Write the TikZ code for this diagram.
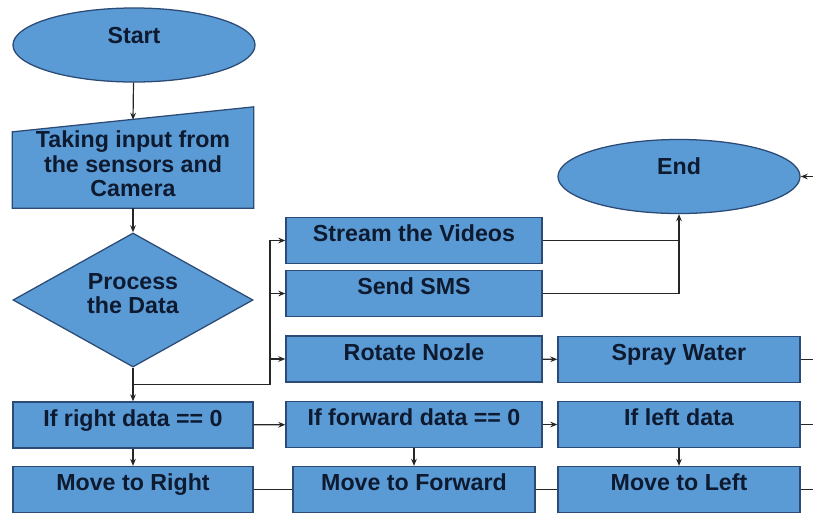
\documentclass[tikz,border=0pt]{standalone}
\usepackage{fontspec}
\setmainfont{Liberation Sans}
\usetikzlibrary{arrows.meta,positioning,shapes.geometric,backgrounds,calc}
\definecolor{boxfill}{HTML}{5B9BD5}
\definecolor{edge}{HTML}{2B4A75}
\definecolor{ink}{HTML}{0D1A30}
\definecolor{linec}{HTML}{262626}

\begin{document}
\begin{tikzpicture}[x=0.025cm,y=-0.025cm,
  base/.style={draw=edge,fill=boxfill,line width=0.9pt,text=ink,
               font=\fontsize{16.5}{17.5}\selectfont\bfseries,align=center},
  box/.style={base,rectangle,minimum width=6cm,minimum height=1.15cm,inner sep=2pt,
              text height=12pt,text depth=10pt},
  term/.style={base,ellipse,minimum width=6.05cm,minimum height=1.85cm,inner sep=1pt,
               text height=12pt,text depth=14.5pt},
  arr/.style={-{Stealth[length=5pt,width=4pt]},draw=linec,line width=0.85pt},
  wire/.style={draw=linec,line width=0.85pt}
]
\useasboundingbox (0,0) rectangle (813,514);
\node[term] (start) at (134,45) {Start};
\node[base,draw=none,fill=none,rectangle,minimum width=6cm,minimum height=2.175cm,inner sep=2pt]
  (inp) at (133,164) {Taking input from\\the sensors and\\Camera};
\begin{scope}[on background layer]
\draw[draw=edge,fill=boxfill,line width=0.9pt] (inp.south west) -- (inp.south east)
  -- ([yshift=0.325cm]inp.north east) -- ([yshift=-0.3cm]inp.north west) -- cycle;
\end{scope}
\node[base,diamond,inner sep=0pt,shape aspect=1.8,minimum width=6cm,minimum height=3.35cm]
  (dec) at (133,300) {Process\\the Data\\[-8pt]};
\node[box,minimum width=6.4cm] (stream) at (414,240.5) {Stream the Videos};
\node[box,minimum width=6.4cm] (sms) at (414,293.5) {Send SMS};
\node[box,minimum width=6.4cm] (rot) at (414,359) {Rotate Nozle};
\node[box,minimum width=6.4cm] (iff) at (414,424.5) {If forward data == 0};
\node[box,minimum width=6.05cm] (mf) at (414,489.5) {Move to Forward};
\node[box] (ifr) at (133,425) {If right data == 0};
\node[box] (mr) at (133,489.5) {Move to Right};
\node[term] (end) at (679,176.5) {End};
\node[box,minimum width=6.05cm] (spray) at (679,359.5) {Spray Water};
\node[box,minimum width=6.05cm] (ifl) at (679,424.5) {If left data};
\node[box,minimum width=6.05cm] (ml) at (679,489.5) {Move to Left};
\coordinate (j) at ($(dec.south)!0.5!(ifr.north)$);
\coordinate (bus) at ([xshift=3.425cm]j);
\coordinate (rim) at (813,176.5);
\draw[arr] (start) -- (inp.north);
\draw[arr] (inp) -- (dec);
\draw[arr] (dec) -- (ifr);
\draw[wire] (j) -- (bus);
\draw[arr] (bus) |- (stream.west);
\draw[arr] (bus) |- (sms.west);
\draw[arr] (bus) |- (rot.west);
\draw[arr] (stream.east) -| (end.south);
\draw[wire] (sms.east) -| (end.south |- stream.east);
\draw[arr] (rim) -- (end.east);
\draw[arr] (rot) -- (spray);
\draw[arr] (ifr) -- (iff);
\draw[arr] (iff) -- (ifl);
\draw[arr] (ifr) -- (mr);
\draw[arr] (iff) -- (mf);
\draw[arr] (ifl) -- (ml);
\draw[wire] (mr) -- (mf);
\draw[wire] (mf) -- (ml);
\draw[wire] (spray.east) -- (spray.east -| rim);
\draw[wire] (ifl.east) -- (ifl.east -| rim);
\draw[wire] (ml.east) -- (ml.east -| rim);
\end{tikzpicture}
\end{document}
